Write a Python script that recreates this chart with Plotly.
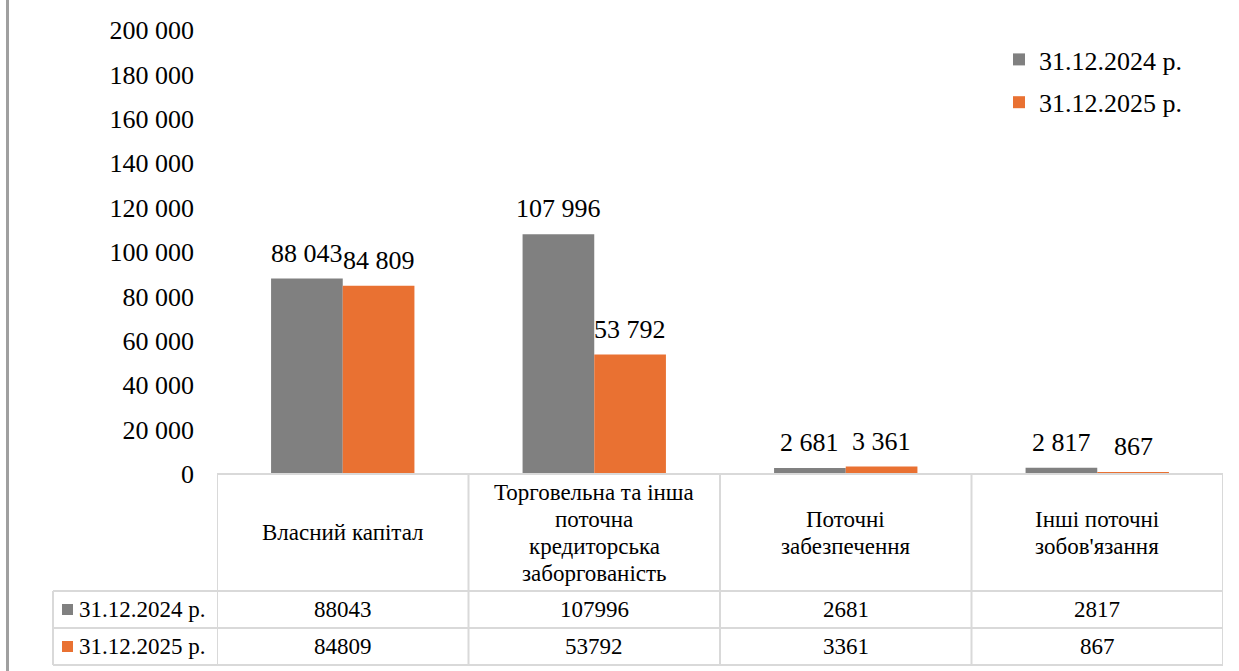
import plotly.graph_objects as go

# ---- data ----
categories = [
    "Власний капітал",
    "Торговельна та інша\nпоточна\nкредиторська\nзаборгованість",
    "Поточні\nзабезпечення",
    "Інші поточні\nзобов'язання",
]
series_names = ["31.12.2024 р.", "31.12.2025 р."]
values_2024 = [88043, 107996, 2681, 2817]
values_2025 = [84809, 53792, 3361, 867]
y_ticks = [0, 20000, 40000, 60000, 80000, 100000, 120000, 140000, 160000, 180000, 200000]

# ---- style ----
W, H = 1239, 671
FONT = "Liberation Serif"
colors = ["#808080", "#E97132"]
grid_col = "#D9D9D9"
BARGAP = 0.43


def px(x):
    return x / W


def py(y):
    return 1 - y / H


plot_left, plot_right = 217, 1223
plot_top, plot_bottom = 30, 474
row1_top, row2_top, table_bottom = 591, 628, 665
table_left = 53

xs = list(range(len(categories)))
nser = len(series_names)
bar_w = (1 - BARGAP) / nser

fig = go.Figure()
annotations = []
for s, (name, vals, col) in enumerate(zip(series_names, [values_2024, values_2025], colors)):
    fig.add_trace(go.Bar(
        x=xs, y=vals, name=name, marker=dict(color=col, line=dict(width=0)),
        legendgroup=name, hoverinfo="skip",
    ))
    off = (s - (nser - 1) / 2) * bar_w
    for i, v in enumerate(vals):
        annotations.append(dict(x=i + off, xref="x", y=v, yref="y", text=f"{v:,}".replace(",", " "),
                                showarrow=False, xanchor="center", yanchor="bottom", yshift=9,
                                font=dict(family=FONT, size=26, color="black")))

shapes = []
line = dict(color=grid_col, width=2)
# horizontal table lines
shapes.append(dict(type="line", xref="paper", yref="paper", x0=px(plot_left), x1=px(plot_right),
                   y0=py(plot_bottom), y1=py(plot_bottom), line=line))
for yy in [row1_top, row2_top, table_bottom]:
    shapes.append(dict(type="line", xref="paper", yref="paper", x0=px(table_left), x1=px(plot_right),
                       y0=py(yy), y1=py(yy), line=line))
# vertical lines at category boundaries
for i in range(len(categories) + 1):
    shapes.append(dict(type="line", xref="x", yref="paper", x0=i - 0.5, x1=i - 0.5,
                       y0=py(plot_bottom), y1=py(table_bottom), line=line))
shapes.append(dict(type="line", xref="paper", yref="paper", x0=px(table_left), x1=px(table_left),
                   y0=py(row1_top), y1=py(table_bottom), line=line))
# left frame border
shapes.append(dict(type="line", xref="paper", yref="paper", x0=px(7.5), x1=px(7.5),
                   y0=0, y1=1, line=dict(color="#A0A0A0", width=3)))

# header category labels (line by line)
hdr_c = (plot_bottom + row1_top) / 2
LH = 27
for i, cat in enumerate(categories):
    lines = cat.split("\n")
    n = len(lines)
    for k, t in enumerate(lines):
        yc = hdr_c + (k - (n - 1) / 2) * LH
        annotations.append(dict(x=i, xref="x", y=py(yc), yref="paper", text=t, showarrow=False,
                                xanchor="center", yanchor="middle",
                                font=dict(family=FONT, size=23, color="black")))
# rows
for r, (name, vals, col) in enumerate(zip(series_names, [values_2024, values_2025], colors)):
    top = [row1_top, row2_top][r]
    bot = [row2_top, table_bottom][r]
    yc = (top + bot) / 2
    shapes.append(dict(type="rect", xref="paper", yref="paper", x0=px(62), x1=px(73),
                       y0=py(yc - 5.5), y1=py(yc + 5.5), fillcolor=col, line=dict(width=0)))
    annotations.append(dict(x=px(77), xref="paper", y=py(yc), yref="paper", text=name, showarrow=False,
                            xanchor="left", yanchor="middle",
                            font=dict(family=FONT, size=23, color="black")))
    for i, v in enumerate(vals):
        annotations.append(dict(x=i, xref="x", y=py(yc), yref="paper", text=str(v), showarrow=False,
                                xanchor="center", yanchor="middle",
                                font=dict(family=FONT, size=23, color="black")))

fig.update_layout(
    width=W, height=H,
    margin=dict(l=0, r=0, t=0, b=0),
    paper_bgcolor="white", plot_bgcolor="white",
    separators=", ",
    barmode="group", bargap=BARGAP, bargroupgap=0,
    font=dict(family=FONT, size=26, color="black"),
    hovermode=False,
    xaxis=dict(domain=[px(plot_left), px(plot_right)], range=[-0.5, len(categories) - 0.5],
               showticklabels=False, showgrid=False, zeroline=False, showline=False, ticks="",
               automargin=False, fixedrange=True),
    yaxis=dict(domain=[py(plot_bottom), py(plot_top)], range=[0, 200000], tickvals=y_ticks,
               tickformat=",d", showgrid=False, zeroline=False, showline=False, ticks="",
               ticklabelstandoff=22, tickfont=dict(family=FONT, size=26, color="black"),
               automargin=False, fixedrange=True),
    legend=dict(x=px(999), y=py(36), xanchor="left", yanchor="top",
                font=dict(family=FONT, size=26, color="black"), bgcolor="rgba(0,0,0,0)",
                tracegroupgap=6, itemclick=False, itemdoubleclick=False),
    showlegend=True,
    shapes=shapes, annotations=annotations,
)

fig.write_html("out.html", config={"displayModeBar": False, "staticPlot": True},
               post_script="document.body.style.margin='0';document.body.style.overflow='hidden';")
